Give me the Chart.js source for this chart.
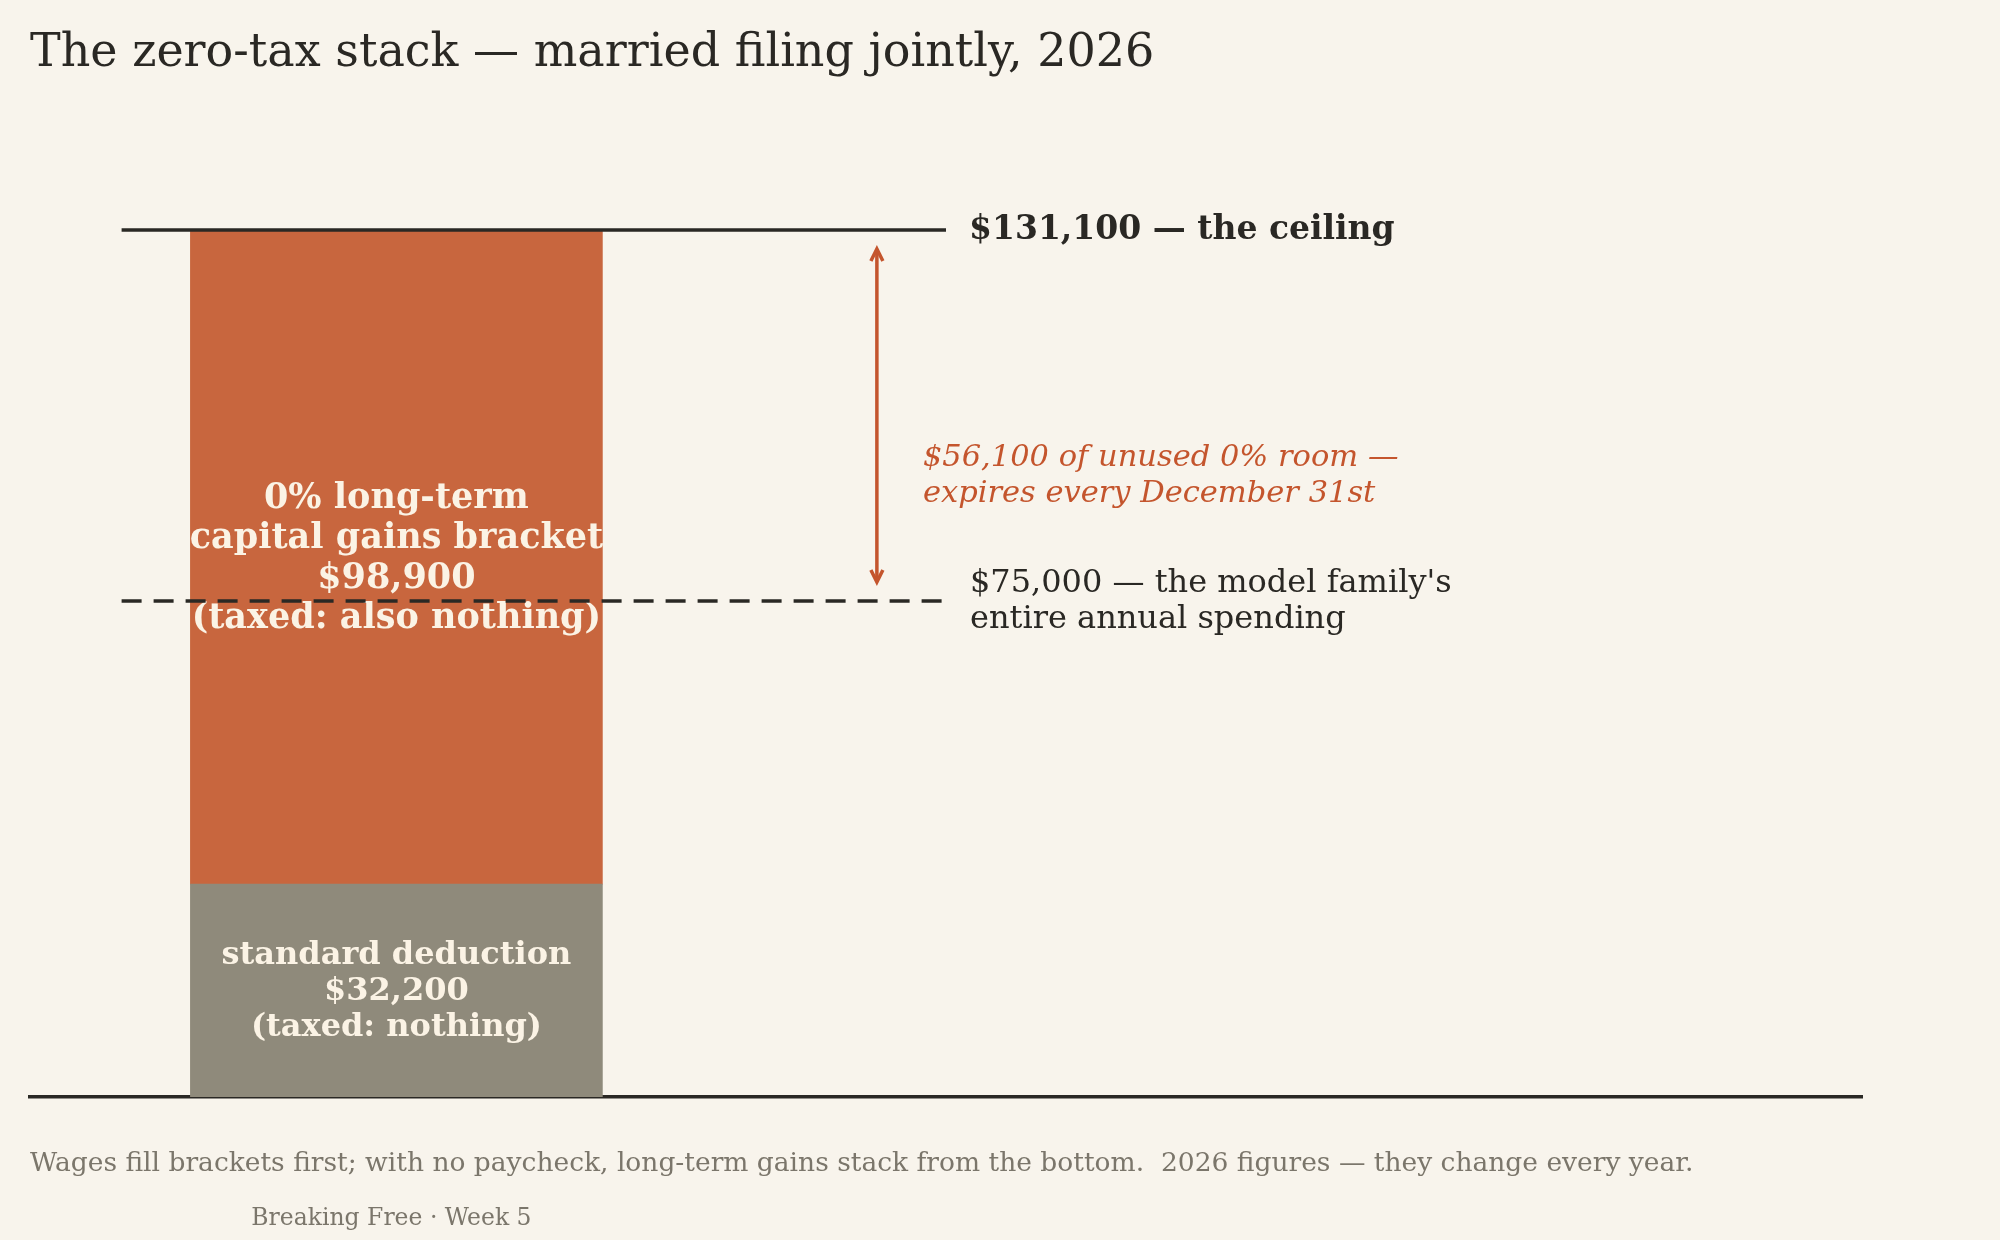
<!DOCTYPE html>
<html>
<head>
<meta charset="utf-8">
<script src="https://cdn.jsdelivr.net/npm/chart.js@4/dist/chart.umd.min.js"></script>
<style>
  html, body { margin: 0; padding: 0; background: #f8f4ec; }
  #c { display: block; }
</style>
</head>
<body>
<canvas id="c" width="2000" height="1240"></canvas>
<script>
// data
const deduction = 32200;
const bracket = 98900;
const ceiling = deduction + bracket;   // 131,100
const spending = 75000;
const unused = ceiling - spending;     // 56,100
const barX = 1;                        // bar position on the x scale
const lineSpan = [0.25, 2.5];          // reference lines start / end
const arrowX = 2.31;

const title = "The zero-tax stack \u2014 married filing jointly, 2026";
const segLabels = [
  ["standard deduction", "$32,200", "(taxed: nothing)"],
  ["0% long-term", "capital gains bracket", "$98,900", "(taxed: also nothing)"]
];
const ceilingLabel = "$131,100 \u2014 the ceiling";
const unusedLabel = ["$56,100 of unused 0% room \u2014", "expires every December 31st"];
const spendLabel = ["$75,000 \u2014 the model family's", "entire annual spending"];
const footnote = "Wages fill brackets first; with no paycheck, long-term gains stack from the bottom.  2026 figures \u2014 they change every year.";
const credit = "Breaking Free \u00b7 Week 5";

const INK = "#2a2824";
const RUST = "#c8663e";
const RUST_TXT = "#c4552d";
const GREY = "#8f8a7b";
const CREAM = "#fbf3e5";
const MUTED = "#7b766b";
const SERIF = "'DejaVu Serif', serif";

// bar labels drawn right after each bar, so the lines go over them
const barLabels = {
  id: "barLabels",
  afterDatasetDraw(chart, args) {
    if (args.meta.type !== "bar") return;
    const ctx = chart.ctx;
    const y = chart.scales.y;
    const bar = args.meta.data[0];
    const raw = chart.data.datasets[args.index].data[0].y;
    const mid = (y.getPixelForValue(raw[0]) + y.getPixelForValue(raw[1])) / 2 + 1.5;
    const lines = segLabels[args.index - 2];
    const big = lines.length > 3;
    const lh = big ? 40 : 36;
    ctx.save();
    ctx.fillStyle = CREAM;
    ctx.font = "bold " + (big ? 35 : 32) + "px " + SERIF;
    ctx.textAlign = "center";
    ctx.textBaseline = "middle";
    lines.forEach((t, i) => {
      ctx.fillText(t, bar.x, mid + (i - (lines.length - 1) / 2) * lh);
    });
    ctx.restore();
  }
};

// title, arrow, annotations
const extras = {
  id: "extras",
  afterDraw(chart) {
    const ctx = chart.ctx;
    const x = chart.scales.x, y = chart.scales.y;
    ctx.save();
    ctx.textBaseline = "middle";
    ctx.textAlign = "left";

    ctx.fillStyle = INK;
    ctx.font = "46px " + SERIF;
    ctx.fillText(title, 30, 54);

    // ceiling label
    const lx = x.getPixelForValue(lineSpan[1]) + 24;
    ctx.font = "bold 33px " + SERIF;
    ctx.fillText(ceilingLabel, lx - 1, y.getPixelForValue(ceiling));

    // spending label
    ctx.font = "32px " + SERIF;
    const ys = y.getPixelForValue(spending);
    ctx.fillText(spendLabel[0], lx, ys - 17);
    ctx.fillText(spendLabel[1], lx, ys + 19);

    // double arrow
    const ax = x.getPixelForValue(arrowX) + 0.5;
    const top = y.getPixelForValue(ceiling) + 18;
    const bot = y.getPixelForValue(spending) - 18;
    ctx.strokeStyle = RUST_TXT;
    ctx.lineWidth = 3.5;
    ctx.lineJoin = "miter";
    ctx.beginPath();
    ctx.moveTo(ax, top + 2); ctx.lineTo(ax, bot - 2);
    ctx.stroke();
    ctx.beginPath();
    ctx.moveTo(ax - 6, top + 13); ctx.lineTo(ax, top + 1); ctx.lineTo(ax + 6, top + 13);
    ctx.moveTo(ax - 6, bot - 13); ctx.lineTo(ax, bot - 1); ctx.lineTo(ax + 6, bot - 13);
    ctx.stroke();

    // unused room label
    ctx.fillStyle = RUST_TXT;
    ctx.font = "italic 30.5px " + SERIF;
    const ux = ax + 46;
    ctx.fillText(unusedLabel[0], ux, ys - 143);
    ctx.fillText(unusedLabel[1], ux, ys - 107);

    // footer
    ctx.fillStyle = MUTED;
    ctx.font = "26.5px " + SERIF;
    ctx.fillText(footnote, 30, 1164.5);
    ctx.font = "23.5px " + SERIF;
    ctx.textAlign = "center";
    ctx.fillText(credit, x.getPixelForValue(barX) - 5, 1218.5);
    ctx.restore();
  }
};

new Chart(document.getElementById("c"), {
  type: "bar",
  data: {
    datasets: [
      {
        type: "line",
        data: lineSpan.map(v => ({ x: v, y: ceiling })),
        borderColor: INK,
        borderWidth: 3.5,
        pointRadius: 0,
        clip: false
      },
      {
        type: "line",
        data: lineSpan.map(v => ({ x: v, y: spending })),
        borderColor: INK,
        borderWidth: 3.5,
        borderDash: [20, 12],
        pointRadius: 0,
        clip: false
      },
      {
        label: "standard deduction",
        data: [{ x: barX, y: [0, deduction] }],
        backgroundColor: GREY,
        barThickness: 412
      },
      {
        label: "0% bracket",
        data: [{ x: barX, y: [deduction, ceiling] }],
        backgroundColor: RUST,
        barThickness: 412
      }
    ]
  },
  options: {
    responsive: false,
    animation: false,
    layout: { padding: { left: 30, right: 138, top: 230, bottom: 143 } },
    plugins: { legend: { display: false }, tooltip: { enabled: false } },
    scales: {
      x: {
        type: "linear",
        min: 0,
        max: 5,
        offset: false,
        stacked: true,
        grid: { display: false, drawTicks: false },
        ticks: { display: false },
        border: { display: true, color: INK, width: 3.5 }
      },
      y: {
        display: false,
        min: 0,
        max: ceiling
      }
    }
  },
  plugins: [barLabels, extras]
});
</script>
</body>
</html>
